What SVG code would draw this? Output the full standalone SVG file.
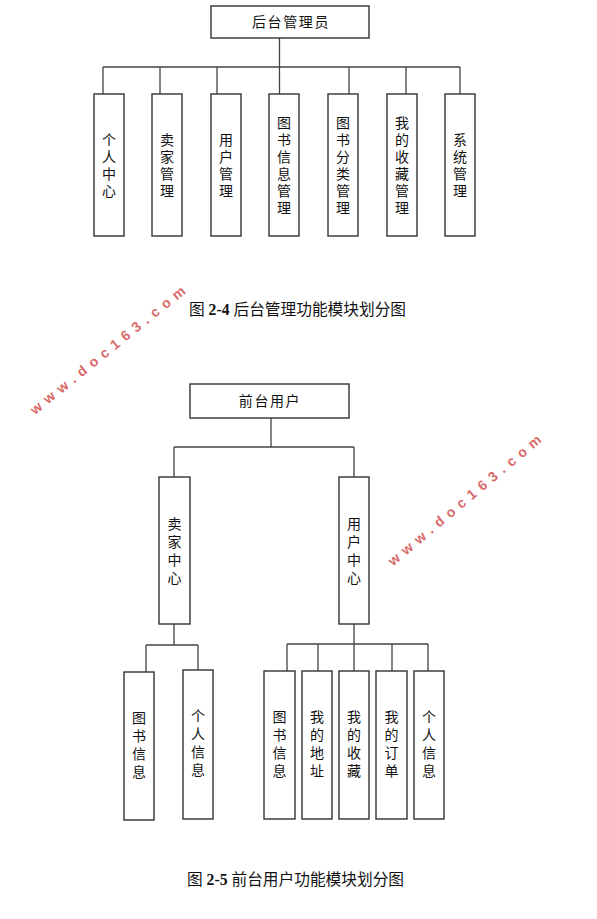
<svg xmlns="http://www.w3.org/2000/svg" width="597" height="919" viewBox="0 0 597 919">
<style>
.box{fill:#fff;stroke:#333;stroke-width:1.4}
.ln{fill:none;stroke:#444;stroke-width:1.3}
.t{font-family:"Noto Sans CJK SC","Liberation Sans",sans-serif;font-size:14px;fill:#111;text-anchor:middle}
.h{letter-spacing:1.6px}
.cap{font-family:"Liberation Serif","Noto Sans CJK SC",serif;font-size:15.7px;fill:#111}
.wm{font-family:"Liberation Sans","DejaVu Sans",sans-serif;font-weight:bold;font-size:14px;fill:#d86a6a;letter-spacing:6px;text-anchor:middle}
</style>
<rect width="597" height="919" fill="#fff"/>
<g id="connectors">
<path class="ln" d="M279.5 38V67M103 67H460M103 67V94M160 67V94M217 67V94M279.5 67V94M349 67V94M406 67V94M460 67V94"/>
<path class="ln" d="M271 418V447M174 447H354M174 447V477M354 447V477"/>
<path class="ln" d="M174 624V645M146 645H198M146 645V672M198 645V670"/>
<path class="ln" d="M354 624V644M287 644H428M287 644V671M318 644V671M354 644V671M392 644V671M428 644V671"/>
</g>
<g id="admin"><rect class="box" x="211" y="6" width="158" height="32"/><text class="t h" x="291" y="27">后台管理员</text></g>
<g id="a1"><rect class="box" x="94" y="94" width="30" height="142"/><text class="t"><tspan x="109" y="145">个</tspan><tspan x="109" y="162">人</tspan><tspan x="109" y="179">中</tspan><tspan x="109" y="196">心</tspan></text></g>
<g id="a2"><rect class="box" x="152" y="94" width="30" height="142"/><text class="t"><tspan x="167" y="145">卖</tspan><tspan x="167" y="162">家</tspan><tspan x="167" y="179">管</tspan><tspan x="167" y="196">理</tspan></text></g>
<g id="a3"><rect class="box" x="211" y="94" width="30" height="142"/><text class="t"><tspan x="226" y="145">用</tspan><tspan x="226" y="162">户</tspan><tspan x="226" y="179">管</tspan><tspan x="226" y="196">理</tspan></text></g>
<g id="a4"><rect class="box" x="269" y="94" width="30" height="142"/><text class="t"><tspan x="284" y="128">图</tspan><tspan x="284" y="145">书</tspan><tspan x="284" y="162">信</tspan><tspan x="284" y="179">息</tspan><tspan x="284" y="196">管</tspan><tspan x="284" y="213">理</tspan></text></g>
<g id="a5"><rect class="box" x="328" y="94" width="30" height="142"/><text class="t"><tspan x="343" y="128">图</tspan><tspan x="343" y="145">书</tspan><tspan x="343" y="162">分</tspan><tspan x="343" y="179">类</tspan><tspan x="343" y="196">管</tspan><tspan x="343" y="213">理</tspan></text></g>
<g id="a6"><rect class="box" x="387" y="94" width="30" height="142"/><text class="t"><tspan x="402" y="128">我</tspan><tspan x="402" y="145">的</tspan><tspan x="402" y="162">收</tspan><tspan x="402" y="179">藏</tspan><tspan x="402" y="196">管</tspan><tspan x="402" y="213">理</tspan></text></g>
<g id="a7"><rect class="box" x="445" y="94" width="30" height="142"/><text class="t"><tspan x="460" y="145">系</tspan><tspan x="460" y="162">统</tspan><tspan x="460" y="179">管</tspan><tspan x="460" y="196">理</tspan></text></g>
<text class="cap" x="189" y="315">图 <tspan font-weight="bold">2-4</tspan> 后台管理功能模块划分图</text>
<g id="front"><rect class="box" x="190" y="384" width="159" height="34"/><text class="t h" x="270" y="406">前台用户</text></g>
<g id="seller"><rect class="box" x="159" y="477" width="31" height="147"/><text class="t"><tspan x="174.5" y="529">卖</tspan><tspan x="174.5" y="547">家</tspan><tspan x="174.5" y="565">中</tspan><tspan x="174.5" y="583">心</tspan></text></g>
<g id="user"><rect class="box" x="339" y="477" width="30" height="147"/><text class="t"><tspan x="354" y="529">用</tspan><tspan x="354" y="547">户</tspan><tspan x="354" y="565">中</tspan><tspan x="354" y="583">心</tspan></text></g>
<g id="s1"><rect class="box" x="124" y="672" width="30" height="148"/><text class="t"><tspan x="139" y="723">图</tspan><tspan x="139" y="741">书</tspan><tspan x="139" y="759">信</tspan><tspan x="139" y="777">息</tspan></text></g>
<g id="s2"><rect class="box" x="183" y="670" width="30" height="149"/><text class="t"><tspan x="198" y="721">个</tspan><tspan x="198" y="739">人</tspan><tspan x="198" y="757">信</tspan><tspan x="198" y="775">息</tspan></text></g>
<g id="u1"><rect class="box" x="264" y="671" width="31" height="148"/><text class="t"><tspan x="279.5" y="722">图</tspan><tspan x="279.5" y="740">书</tspan><tspan x="279.5" y="758">信</tspan><tspan x="279.5" y="776">息</tspan></text></g>
<g id="u2"><rect class="box" x="302" y="671" width="30" height="148"/><text class="t"><tspan x="317" y="722">我</tspan><tspan x="317" y="740">的</tspan><tspan x="317" y="758">地</tspan><tspan x="317" y="776">址</tspan></text></g>
<g id="u3"><rect class="box" x="339" y="671" width="30" height="148"/><text class="t"><tspan x="354" y="722">我</tspan><tspan x="354" y="740">的</tspan><tspan x="354" y="758">收</tspan><tspan x="354" y="776">藏</tspan></text></g>
<g id="u4"><rect class="box" x="376" y="671" width="31" height="148"/><text class="t"><tspan x="391.5" y="722">我</tspan><tspan x="391.5" y="740">的</tspan><tspan x="391.5" y="758">订</tspan><tspan x="391.5" y="776">单</tspan></text></g>
<g id="u5"><rect class="box" x="414" y="671" width="30" height="148"/><text class="t"><tspan x="429" y="722">个</tspan><tspan x="429" y="740">人</tspan><tspan x="429" y="758">信</tspan><tspan x="429" y="776">息</tspan></text></g>
<text class="cap" x="187" y="885">图 <tspan font-weight="bold">2-5</tspan> 前台用户功能模块划分图</text>
<text class="wm" transform="translate(113 352) rotate(-39)">www.doc163.com</text>
<text class="wm" transform="translate(470 502) rotate(-40)">www.doc163.com</text>
</svg>
